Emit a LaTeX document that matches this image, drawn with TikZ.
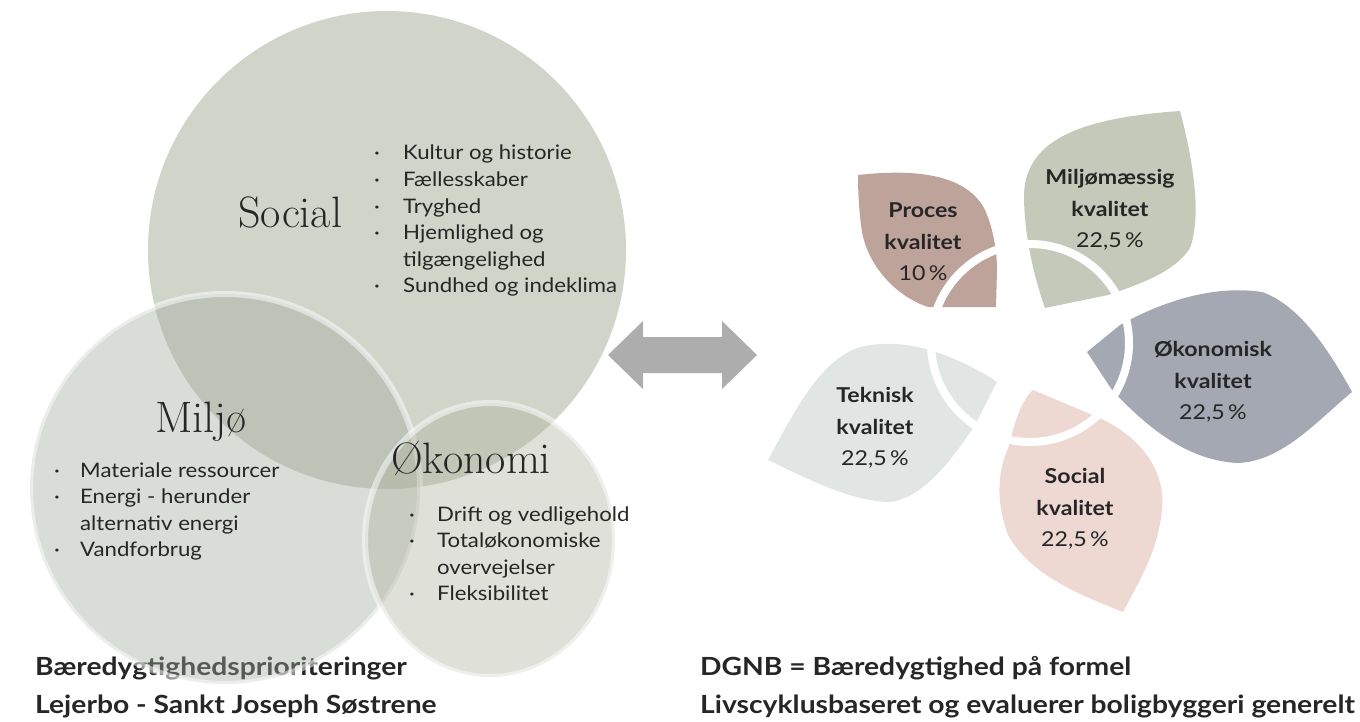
\documentclass[tikz,border=0pt]{standalone}
\usepackage{fontspec}
\newfontfamily\avfont{Lato}[FakeStretch=1.11]
\newfontfamily\avwide{Lato}[FakeStretch=1.13]
\usetikzlibrary{shapes.geometric}
\definecolor{ink}{HTML}{262626}
\definecolor{colsoc}{HTML}{899478}
\definecolor{colmil}{HTML}{A0AA9E}
\definecolor{colok}{HTML}{AFB29B}
\definecolor{arrowgray}{HTML}{ADADAD}
\definecolor{petproc}{HTML}{BEA39B}
\definecolor{petmil}{HTML}{C5C9B9}
\definecolor{petok}{HTML}{A3A8B2}
\definecolor{pettek}{HTML}{E1E6E5}
\definecolor{petsoc}{HTML}{EDD8D2}
\tikzset{
  venn/.style={inner sep=0, fill opacity=0.4},
  rim/.style={draw=white, draw opacity=0.5, line width=6pt},
  head/.style={anchor=base west, inner sep=0, text=ink, font=\fontsize{44}{44}\selectfont},
  items/.style={anchor=base west, inner sep=0, text=ink, font=\avfont\fontsize{20}{26.6}\selectfont},
  caption/.style={anchor=base west, inner sep=0, text=ink, font=\avwide\bfseries\fontsize{25}{30}\selectfont},
  petal text/.style={align=center, inner sep=0, text=ink, font=\avwide\fontsize{20.5}{31.5}\selectfont},
  cut/.style={draw=white, line width=8pt},
}

\begin{document}
\begin{tikzpicture}[x=1pt, y=-1pt]
  \useasboundingbox (0,0) rectangle (1360,722);

  % ---- captions (drawn first, the circles tint them)
  \node[caption] (capL1) at (35,675)  {Bæredygtighedsprioriteringer};
  \node[caption] (capL2) at (35,713)  {Lejerbo - Sankt Joseph Søstrene};
  \node[caption] (capR1) at (700,675) {DGNB = Bæredygtighed på formel};
  \node[caption] (capR2) at (700,713) {Livscyklusbaseret og evaluerer boligbyggeri generelt};

  % ---- the three circles
  \node[venn, circle, fill=colsoc, minimum size=478] (social) at (387,250) {};
  \node[venn, circle, rim, fill=colmil, minimum size=390] (miljo) at (225,489) {};
  \node[venn, ellipse, rim, fill=colok, minimum width=250, minimum height=274] (okonomi) at (490,540) {};

  % ---- headings and lists
  \node[head] (hsoc) at (238,228) {Social};
  \node[head] (hmil) at (155,432) {Miljø};
  \node[head] (hok)  at (391,473) {Økonomi};

  \node[items] (lsoc) at (374,160) {\begin{tabular}[t]{@{}p{29pt}@{}l@{}}
    · & Kultur og historie\\ · & Fællesskaber\\ · & Tryghed\\
    · & Hjemlighed og\\ & tilgængelighed\\ · & Sundhed og indeklima
  \end{tabular}};
  \node[items] (lmil) at (54,477) {\begin{tabular}[t]{@{}p{26pt}@{}l@{}}
    · & Materiale ressourcer\\ · & Energi - herunder\\ & alternativ energi\\ · & Vandforbrug
  \end{tabular}};
  \node[items] (lok) at (409,521) {\begin{tabular}[t]{@{}p{28pt}@{}l@{}}
    · & Drift og vedligehold\\ · & Totaløkonomiske\\ & overvejelser\\ · & Fleksibilitet
  \end{tabular}};

  % ---- double arrow between the halves
  \fill[arrowgray] (608,355) -- (643,321) -- (643,337) -- (722,337) -- (722,321)
    -- (757,355) -- (722,389) -- (722,373) -- (643,373) -- (643,389) -- cycle;

  % ---- DGNB flower: five petals, cut by one white ring
  \coordinate (flower) at (1030,343);
  \fill[petproc] (858,175) .. controls (920,168) and (968,176) .. (985,210)
    .. controls (993,228) and (997,250) .. (997,270) -- (996,307) -- (928,307)
    .. controls (895,296) and (868,265) .. (862,232) .. controls (859,212) and (858,192) .. cycle;
  \fill[petmil] (1045,308) .. controls (1035,280) and (1025,240) .. (1024,200)
    .. controls (1022,140) and (1080,118) .. (1180,111)
    .. controls (1193,160) and (1202,215) .. (1190,248)
    .. controls (1175,272) and (1140,284) .. (1108,295) -- cycle;
  \fill[petok] (1087,352) -- (1120,325) .. controls (1165,300) and (1215,285) .. (1262,292)
    .. controls (1300,305) and (1330,352) .. (1352,392)
    .. controls (1318,420) and (1282,462) .. (1237,463)
    .. controls (1185,460) and (1145,425) .. (1112,390) -- cycle;
  \fill[pettek] (768,460) .. controls (795,410) and (820,360) .. (860,347)
    .. controls (890,340) and (915,346) .. (930,350)
    .. controls (955,358) and (980,370) .. (997,382) -- (975,425)
    .. controls (955,455) and (925,498) .. (890,502)
    .. controls (850,502) and (800,475) .. cycle;
  \fill[petsoc] (1033,390) -- (1095,416) .. controls (1140,435) and (1166,470) .. (1162,510)
    .. controls (1158,550) and (1140,580) .. (1123,612)
    .. controls (1080,595) and (1030,575) .. (1008,535)
    .. controls (995,500) and (998,470) .. (1009,446)
    .. controls (1015,420) and (1022,400) .. cycle;
  \draw[cut] (flower) circle[radius=99pt];

  % ---- petal labels
  \node[petal text] (tproc) at (923,242)  {\textbf{Proces}\\\textbf{kvalitet}\\10\,\%};
  \node[petal text] (tmil)  at (1110,210) {\textbf{Miljømæssig}\\\textbf{kvalitet}\\22,5\,\%};
  \node[petal text] (tok)   at (1213,382) {\textbf{Økonomisk}\\\textbf{kvalitet}\\22,5\,\%};
  \node[petal text] (ttek)  at (875,428)  {\textbf{Teknisk}\\\textbf{kvalitet}\\22,5\,\%};
  \node[petal text] (tsoc)  at (1075,509) {\textbf{Social}\\\textbf{kvalitet}\\22,5\,\%};

\end{tikzpicture}
\end{document}
